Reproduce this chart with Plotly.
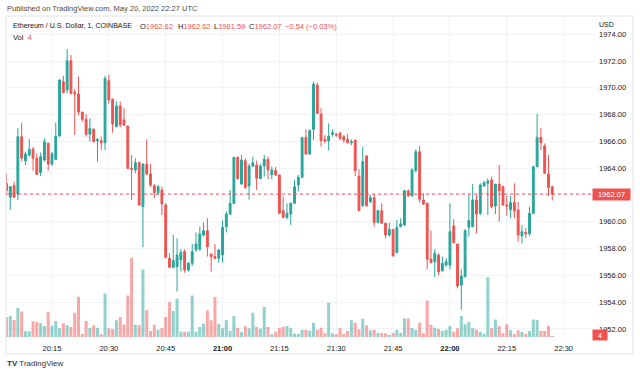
import plotly.graph_objects as go
import pandas as pd

# ---- data ----
start_time = "2022-05-20 20:03"
opens = [1962.87,1961.83,1962.70,1962.07,1966.35,1964.56,1964.98,1965.41,1964.74,1963.67,
         1964.61,1965.86,1964.31,1964.66,1966.40,1970.46,1969.84,1972.02,1969.64,1969.54,
         1968.19,1967.65,1966.53,1966.90,1966.05,1966.05,1965.90,1970.53,1969.14,1967.10,
         1968.64,1967.60,1967.15,1963.99,1963.87,1964.41,1961.13,1964.31,1963.57,1962.67,
         1962.17,1962.37,1961.25,1957.27,1956.60,1956.65,1957.15,1957.77,1956.40,1956.90,
         1957.90,1957.95,1959.01,1959.34,1957.60,1957.40,1957.27,1957.52,1959.64,1960.58,
         1961.38,1964.81,1962.82,1964.56,1962.67,1964.16,1964.24,1963.24,1964.16,1964.66,
         1963.50,1963.82,1963.50,1960.83,1960.33,1960.58,1961.38,1962.75,1963.32,1966.30,
         1965.06,1966.90,1970.21,1968.04,1966.15,1966.03,1966.53,1966.55,1966.60,1966.35,
         1966.15,1965.90,1966.10,1963.42,1961.20,1964.91,1961.50,1961.80,1959.94,1960.83,
         1959.89,1959.01,1959.44,1957.70,1959.64,1959.76,1962.30,1961.93,1963.82,1965.23,
         1961.63,1961.38,1957.22,1957.02,1957.52,1956.35,1956.77,1956.77,1959.69,1958.34,
         1955.28,1955.90,1959.59,1959.64,1961.63,1960.63,1962.67,1962.87,1963.12,1961.18,
         1962.82,1962.62,1961.25,1960.90,1961.43,1960.88,1958.94,1959.20,1959.10,1960.63,
         1964.11,1966.30,1965.66,1963.57,1962.62]
highs = [1963.60,1962.65,1963.00,1966.98,1967.40,1965.23,1966.18,1965.60,1965.10,1965.16,
         1966.23,1965.90,1965.23,1967.40,1970.63,1970.88,1972.87,1972.45,1969.90,1970.83,
         1968.20,1968.04,1967.72,1966.98,1966.23,1966.35,1970.88,1970.96,1969.20,1968.97,
         1968.97,1968.47,1967.15,1964.99,1964.74,1964.50,1964.36,1966.15,1964.31,1962.82,
         1962.75,1962.62,1961.38,1957.65,1959.01,1958.76,1957.95,1957.95,1957.02,1958.34,
         1959.20,1959.64,1959.94,1960.26,1957.60,1958.34,1957.95,1960.09,1960.76,1962.37,
         1964.81,1964.86,1964.99,1964.74,1964.31,1964.86,1964.56,1964.31,1964.99,1964.86,
         1964.11,1964.11,1963.50,1961.88,1961.38,1961.43,1963.12,1963.50,1966.35,1966.90,
         1966.90,1970.46,1970.38,1968.47,1966.47,1967.35,1966.90,1966.60,1966.73,1966.48,
         1966.55,1966.15,1966.10,1963.92,1965.60,1964.99,1962.00,1962.07,1960.88,1961.38,
         1959.94,1959.94,1959.44,1960.14,1960.26,1962.37,1962.42,1963.99,1965.41,1965.64,
         1962.12,1961.43,1959.34,1957.95,1957.65,1957.40,1957.27,1961.38,1960.18,1958.34,
         1956.45,1959.44,1962.07,1962.82,1962.00,1962.87,1963.07,1963.24,1963.37,1962.82,
         1964.24,1962.67,1961.93,1961.93,1962.87,1961.50,1959.76,1959.51,1961.13,1964.16,
         1968.04,1966.98,1965.85,1964.99,1962.62]
lows = [1962.00,1960.88,1961.80,1961.63,1964.50,1964.24,1964.86,1963.82,1963.50,1963.42,
        1964.49,1963.82,1964.16,1964.60,1966.35,1969.60,1969.59,1969.50,1966.48,1967.97,
        1967.47,1966.35,1965.98,1965.90,1964.49,1965.36,1965.36,1968.84,1966.65,1967.05,
        1967.05,1967.15,1963.90,1961.63,1963.62,1961.20,1958.10,1963.50,1962.60,1961.75,
        1962.00,1960.51,1957.27,1956.53,1956.53,1954.79,1956.28,1956.20,1956.28,1956.70,
        1957.77,1957.85,1958.89,1957.40,1956.28,1957.20,1956.95,1956.95,1959.20,1960.51,
        1961.33,1963.12,1962.75,1962.42,1961.65,1964.11,1962.37,1963.17,1963.37,1963.17,
        1963.17,1963.42,1960.58,1960.26,1960.18,1959.74,1961.33,1962.25,1963.32,1964.99,
        1964.99,1966.10,1968.04,1965.60,1965.85,1965.33,1966.35,1966.35,1966.10,1965.90,
        1965.85,1965.72,1963.42,1960.80,1961.13,1961.13,1961.38,1959.64,1959.89,1959.84,
        1958.77,1958.89,1957.40,1957.65,1959.59,1959.71,1961.88,1961.90,1963.67,1961.43,
        1961.25,1956.45,1956.90,1955.86,1956.03,1956.28,1956.65,1956.45,1958.39,1955.03,
        1953.42,1955.86,1958.89,1959.59,1959.14,1960.51,1962.62,1960.51,1961.00,1960.58,
        1960.00,1961.18,1960.43,1960.26,1960.26,1958.52,1958.39,1958.77,1958.94,1960.58,
        1964.06,1965.36,1963.57,1961.93,1961.59]
closes = [1962.32,1962.62,1961.83,1966.35,1964.74,1965.06,1965.41,1964.74,1963.54,1964.86,
          1965.98,1964.31,1965.06,1966.40,1970.58,1969.64,1972.02,1969.59,1969.54,1968.19,
          1967.65,1966.53,1966.98,1965.98,1966.15,1965.90,1970.70,1969.09,1967.30,1968.64,
          1967.22,1967.22,1963.99,1963.92,1964.41,1961.25,1964.31,1963.57,1962.75,1962.17,
          1962.62,1961.33,1957.35,1956.60,1957.10,1957.52,1957.70,1956.40,1956.90,1957.77,
          1958.34,1959.09,1959.34,1958.14,1957.40,1957.27,1957.90,1959.59,1960.58,1961.38,
          1964.81,1963.24,1964.61,1962.57,1964.16,1964.41,1963.24,1964.16,1964.66,1963.87,
          1963.87,1963.50,1960.63,1960.33,1960.63,1961.38,1962.62,1963.32,1966.28,1965.06,
          1966.80,1970.28,1968.09,1966.05,1966.03,1966.40,1966.65,1966.48,1966.23,1966.10,
          1965.90,1965.98,1963.82,1960.83,1964.49,1961.20,1961.80,1959.94,1960.83,1959.89,
          1959.01,1959.44,1957.45,1959.59,1959.84,1962.32,1961.93,1963.87,1965.23,1961.68,
          1961.33,1957.20,1956.95,1957.65,1956.28,1956.90,1957.02,1959.26,1958.44,1955.21,
          1955.95,1959.34,1960.09,1961.63,1960.58,1962.75,1962.92,1963.04,1961.13,1962.82,
          1962.32,1961.25,1961.18,1961.43,1960.83,1959.01,1959.26,1959.10,1960.63,1964.11,
          1966.30,1965.90,1963.62,1962.57,1962.07]
volumes = [80,85,68,116,102,23,23,63,60,55,44,100,44,64,35,55,47,40,97,161,
           12,64,37,47,37,11,174,35,32,67,80,49,166,317,49,47,270,108,24,49,
           29,36,80,140,104,154,21,21,21,166,21,40,53,106,67,160,53,35,67,24,
           84,37,20,43,35,97,40,33,120,40,11,21,37,41,44,35,13,12,29,29,
           25,57,29,37,15,137,15,11,35,13,24,67,57,31,73,47,27,29,17,15,
           15,8,16,29,16,74,74,37,29,57,15,146,49,37,32,24,29,44,21,35,
           84,51,60,35,29,21,13,239,35,70,44,15,51,27,11,27,20,12,24,70,
           68,24,24,44,4]
price_ticks = [1952, 1954, 1956, 1958, 1960, 1962, 1964, 1966, 1968, 1970, 1972, 1974]
time_ticks = ["20:15", "20:30", "20:45", "21:00", "21:15", "21:30", "21:45", "22:00", "22:15", "22:30"]
last_price = 1962.07
last_volume = 4
price_change = "−0.54 (−0.03%)"

GREEN = "#26a69a"
RED = "#ef5350"
GREEN_V = "rgba(38,166,154,0.5)"
RED_V = "rgba(239,83,80,0.5)"
TXT = "#131722"
GRID = "#f0f3fa"
FONT = "Liberation Sans"
FS = 7.5

times = pd.date_range(start_time, periods=len(closes), freq="min")
vol_colors = [GREEN_V if c >= o else RED_V for o, c in zip(opens, closes)]

fig = go.Figure()
fig.add_trace(go.Bar(x=times, y=volumes, marker=dict(color=vol_colors, line=dict(width=0)),
                     yaxis="y", hoverinfo="skip", showlegend=False))
fig.add_trace(go.Candlestick(
    x=times, open=opens, high=highs, low=lows, close=closes, yaxis="y2",
    increasing=dict(line=dict(color=GREEN, width=1), fillcolor=GREEN),
    decreasing=dict(line=dict(color=RED, width=1), fillcolor=RED),
    whiskerwidth=0, showlegend=False))

tickvals_x = [f"2022-05-20 {t}" for t in time_ticks]
ticktext_x = [f"<b>{t}</b>" if t.endswith(":00") else t for t in time_ticks]

fig.update_layout(
    width=640, height=376,
    margin=dict(l=6, r=48, t=16, b=39),
    paper_bgcolor="white", plot_bgcolor="white",
    font=dict(family=FONT, size=FS, color=TXT),
    bargap=0.2, boxgap=0.3,
    showlegend=False,
    xaxis=dict(type="date", range=["2022-05-20 20:02:52", "2022-05-20 22:37:29"],
               tickvals=tickvals_x, ticktext=ticktext_x, showgrid=True, gridcolor=GRID,
               zeroline=False, showline=False, ticks="", rangeslider=dict(visible=False),
               ticklabelstandoff=5,
               tickfont=dict(size=FS, color=TXT, family=FONT)),
    yaxis=dict(range=[0, 1284], visible=False, showgrid=False, fixedrange=True),
    yaxis2=dict(overlaying="y", side="right", range=[1951.40, 1975.36],
                tickvals=price_ticks, ticktext=[f"{v:.2f}" for v in price_ticks],
                showgrid=True, gridcolor=GRID, zeroline=False, showline=False, ticks="",
                ticklabelstandoff=6,
                tickfont=dict(size=FS, color=TXT, family=FONT)),
)

# current price dotted line
fig.add_shape(type="line", xref="paper", x0=0, x1=1, yref="y2", y0=last_price, y1=last_price,
              line=dict(color=RED, width=1, dash="dot"))
# frame
fig.add_shape(type="rect", xref="paper", yref="paper", x0=0, x1=(633 - 6) / 586,
              y0=(337 - 354) / 321, y1=1, line=dict(color="#e0e3eb", width=1), layer="above")

NB = "\u00a0"
red = lambda s: f"<span style='color:{RED}'>{s}</span>"


def px(xp):
    return (xp - 6) / 586


def py(yp):
    return (337 - yp) / 321


annotations = [
    dict(text="Published on TradingView.com, May 20, 2022 22:27 UTC", x=px(5), y=py(8),
         font=dict(size=FS, color="#4a4a4a")),
    dict(text="Ethereum / U.S. Dollar, 1, COINBASE", x=px(11), y=py(26), font=dict(size=7.1, color=TXT)),
    dict(text=f"O{red(f'{opens[-1]:.2f}')}", x=px(138), y=py(26), font=dict(size=FS, color=TXT)),
    dict(text=f"H{red(f'{highs[-1]:.2f}')}", x=px(176), y=py(26), font=dict(size=FS, color=TXT)),
    dict(text=f"L{red(f'{lows[-1]:.2f}')}", x=px(212), y=py(26), font=dict(size=FS, color=TXT)),
    dict(text=f"C{red(f'{closes[-1]:.2f}')}", x=px(247), y=py(26), font=dict(size=FS, color=TXT)),
    dict(text=red(price_change), x=px(283), y=py(26), font=dict(size=FS, color=TXT)),
    dict(text=f"Vol{NB}{NB}{red(last_volume)}", x=px(11), y=py(37), font=dict(size=FS, color=TXT)),
    dict(text="USD", x=px(597), y=py(24), font=dict(size=7, color=TXT)),
    dict(text="<b>TV</b> TradingView", x=px(5), y=py(364), font=dict(size=8, color="#333")),
]
for a in annotations:
    a.update(xref="paper", yref="paper", xanchor="left", yanchor="middle", showarrow=False)
    fig.add_annotation(**a)

fig.add_annotation(text=f"{last_price:.2f}", xref="paper", x=px(592), yref="y2", y=last_price,
                   xanchor="left", yanchor="middle", showarrow=False, bgcolor=RED,
                   font=dict(size=FS, color="white"), width=35, height=9, borderpad=1)
fig.add_annotation(text=str(last_volume), xref="paper", x=px(592), yref="paper", y=py(335),
                   xanchor="left", yanchor="middle", showarrow=False, bgcolor=RED,
                   font=dict(size=7, color="white"), width=12, height=8, borderpad=1)

fig.write_html("out.html", config={"displayModeBar": False},
               post_script="document.body.style.margin='0';")
